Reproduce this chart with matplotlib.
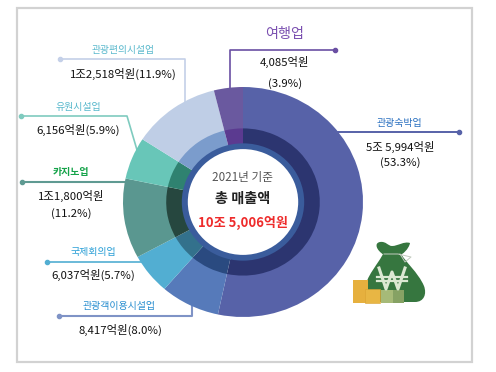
import matplotlib
matplotlib.use('Agg')
import matplotlib.pyplot as plt
from matplotlib.patches import Rectangle, PathPatch
from matplotlib.path import Path

plt.rcParams['font.family'] = ['Noto Sans CJK KR', 'DejaVu Sans']

W, H = 496, 372

SECTORS = ['관광숙박업', '관광객이용시설업', '국제회의업', '카지노업', '유원시설업', '관광편의시설업', '여행업']
SHARES = [53.3, 8.0, 5.7, 11.2, 5.9, 11.9, 3.9]
OUTER_COLORS = ['#5762a8', '#567aba', '#52aed2', '#5a9790', '#68c6b8', '#bfcee6', '#6a599f']
INNER_COLORS = ['#2c3570', '#2a4a80', '#33718c', '#26473f', '#2f8270', '#7b9ccc', '#5b3a90']

fig = plt.figure(figsize=(W / 100, H / 100), dpi=100)

# pixel overlay for frame and leader lines
bg = fig.add_axes([0, 0, 1, 1])
bg.set_xlim(0, W)
bg.set_ylim(H, 0)
bg.axis('off')

bg.add_patch(Rectangle((17, 8), 455, 354, fc='none', ec='#d2d2d2', lw=1.6))


def leader(xs, ys, color, lw=1.2):
    bg.plot(xs, ys, color=color, lw=lw, zorder=1)
    bg.plot(xs[0], ys[0], 'o', color=color, ms=3.0, zorder=1)


leader([60, 185, 185], [59, 59, 110], '#c4d0e8')
leader([21, 127, 137], [116, 116, 150], '#7fcbbf')
leader([22, 130], [182, 182], '#5f9a92', 1.5)
leader([47, 145], [262, 262], '#52aed2')
leader([59, 192, 192], [316, 316, 305], '#7f93c6', 1.5)
leader([459, 335], [132, 132], '#5762a8', 1.4)
leader([335, 230, 230], [50, 50, 90], '#6a4fa3')

# donut, squeezed slightly like the reference
pie_ax = fig.add_axes([123 / W, 1 - 317 / H, 240 / W, 230 / H])
pie_ax.pie(SHARES, colors=OUTER_COLORS, radius=1.0, startangle=90, counterclock=False,
           wedgeprops={'width': 0.37})
pie_ax.pie(SHARES, colors=INNER_COLORS, radius=0.64, startangle=90, counterclock=False,
           wedgeprops={'width': 0.14})
pie_ax.pie([1], colors=['#3a5c9c'], radius=0.51, wedgeprops={'width': 0.05})
pie_ax.set_aspect('auto')
pie_ax.set_xlim(-1, 1)
pie_ax.set_ylim(-1, 1)

txt = fig.add_axes([0, 0, 1, 1])
txt.set_xlim(0, W)
txt.set_ylim(H, 0)
txt.axis('off')


def label(x, y, s, color='#111111', size=8.2, **kw):
    txt.text(x, y, s, color=color, fontsize=size, ha='center', va='center', **kw)


# centre
label(243, 177, '2021년 기준', '#555555', 8.4)
label(243, 199, '총 매출액', '#222222', 10.2, fontweight='bold')
label(243, 223, '10조 5,006억원', '#ee2b2b', 9.4, fontweight='bold')

# callouts
label(123, 50, SECTORS[5], '#58b8cc', 7)
label(123, 74, '1조2,518억원(11.9%)')
label(78, 107, SECTORS[4], '#58b8cc', 7.2)
label(78, 130, '6,156억원(5.9%)')
label(71, 172, SECTORS[3], '#16a34a', 7.2, fontweight='bold')
label(71, 196, '1조1,800억원')
label(71, 214, '(11.2%)')
label(93, 252, SECTORS[2], '#2a9fd6', 7.2)
label(93, 275, '6,037억원(5.7%)')
label(119, 306, SECTORS[1], '#2a8fd0', 7.2)
label(120, 330, '8,417억원(8.0%)')
label(399, 123, SECTORS[0], '#2a70c0', 7.2)
label(400, 147, '5조 5,994억원')
label(400, 163, '(53.3%)')
label(285, 34, SECTORS[6], '#7a4fb0', 10.2)
label(285, 62, '4,085억원')
label(285, 84, '(3.9%)')

# money bag icon
C4 = Path.CURVE4
bag_path = Path(
    [(384, 252), (378, 265), (366, 275), (364, 292), (364, 302), (415, 302), (424, 302), (427, 294), (424, 286),
     (418, 272), (405, 262), (400, 252), (384, 252)],
    [Path.MOVETO, C4, C4, C4, Path.LINETO, Path.LINETO, C4, C4, C4, C4, C4, C4, Path.CLOSEPOLY])
txt.add_patch(PathPatch(bag_path, fc='#36763f', ec='none'))
knot_path = Path(
    [(384, 255), (376, 250), (374, 243), (380, 242), (386, 241), (388, 246), (392, 246), (398, 246), (404, 241),
     (410, 243), (409, 249), (402, 255), (400, 255), (384, 255)],
    [Path.MOVETO, C4, C4, C4, C4, C4, C4, C4, C4, C4, C4, C4, C4, Path.CLOSEPOLY])
txt.add_patch(PathPatch(knot_path, fc='#36763f', ec='none'))
txt.plot([384, 398, 411, 405, 400], [254, 254, 257, 262, 254], color='#c3cbbf', lw=0.7)
txt.plot([379, 386, 392, 398, 405], [268, 289, 272, 289, 268], color='#dbe8d2', lw=2.2)
txt.plot([377, 407], [277, 277], color='#dbe8d2', lw=1.6)
txt.plot([377, 407], [281, 281], color='#dbe8d2', lw=1.6)
txt.add_patch(Rectangle((353, 280), 15, 23, fc='#e6b03e', ec='none'))
txt.add_patch(Rectangle((365, 289), 15, 14, fc='#e8b644', ec='#d9a232', lw=0.4))
txt.add_patch(Rectangle((381, 290), 12, 13, fc='#a6ba78', ec='none'))
txt.add_patch(Rectangle((393, 290), 11, 13, fc='#86a264', ec='none'))

fig.savefig('out.png', dpi=100)
